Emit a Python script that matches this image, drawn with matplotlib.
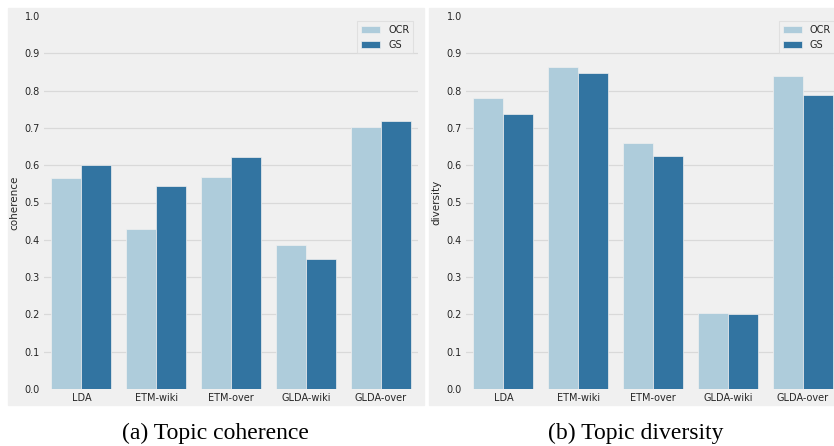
import numpy as np
import matplotlib
matplotlib.use("Agg")
import matplotlib.pyplot as plt
from matplotlib.patches import Rectangle
import seaborn as sns

models = ["LDA", "ETM-wiki", "ETM-over", "GLDA-wiki", "GLDA-over"]
series = ["OCR", "GS"]
coherence_ocr = [0.566, 0.430, 0.568, 0.387, 0.703]
coherence_gs = [0.600, 0.544, 0.623, 0.348, 0.718]
diversity_ocr = [0.779, 0.862, 0.659, 0.205, 0.838]
diversity_gs = [0.737, 0.846, 0.624, 0.200, 0.787]
yticks = [0.0, 0.1, 0.2, 0.3, 0.4, 0.5, 0.6, 0.7, 0.8, 0.9, 1.0]
captions = ["(a) Topic coherence", "(b) Topic diversity"]
ylabels = ["coherence", "diversity"]

pal = sns.color_palette("Paired")
colors = [sns.desaturate(pal[0], 0.75), sns.desaturate(pal[1], 0.75)]
BG = "#f0f0f0"

W, H = 834, 446
fig = plt.figure(figsize=(W / 100, H / 100), dpi=100, facecolor="white")

def fx(px):
    return px / W

def fy(py):
    return 1 - py / H

# panel backgrounds
fig.patches.append(Rectangle((fx(8), fy(405)), fx(416), 397 / H,
                             transform=fig.transFigure, color=BG, zorder=-10))
fig.patches.append(Rectangle((fx(429), fy(405)), fx(420), 397 / H,
                             transform=fig.transFigure, color=BG, zorder=-10))

axes_left_px = [44, 466]
data = [(coherence_ocr, coherence_gs), (diversity_ocr, diversity_gs)]
cap_x = [215, 636]

for i in range(2):
    ax = fig.add_axes([fx(axes_left_px[i]), fy(389), 374 / W, 373 / H])
    ax.set_facecolor(BG)
    x = np.arange(len(models))
    w = 0.4
    ocr, gs = data[i]
    ax.bar(x - w / 2, ocr, width=w, color=colors[0], edgecolor=BG, linewidth=0.5,
           label=series[0], zorder=2)
    ax.bar(x + w / 2, gs, width=w, color=colors[1], edgecolor=BG, linewidth=0.5,
           label=series[1], zorder=2)
    ax.set_xlim(-0.5, len(models) - 0.5)
    ax.set_ylim(0, 1.0)
    ax.set_yticks(yticks)
    ax.set_yticklabels([f"{t:.1f}" for t in yticks])
    ax.set_xticks(x)
    ax.set_xticklabels(models)
    ax.tick_params(axis="both", length=0, labelsize=7, colors="#262626", pad=3)
    ax.yaxis.grid(True, color="#d9d9d9", linewidth=0.9, zorder=0)
    ax.xaxis.grid(False)
    ax.set_axisbelow(True)
    gl = ax.yaxis.get_gridlines()
    gl[0].set_visible(False)
    gl[-1].set_visible(False)
    for s in ax.spines.values():
        s.set_visible(False)
    ax.set_ylabel(ylabels[i], fontsize=7.5, color="#262626", labelpad=4)
    leg = ax.legend(loc="upper right", fontsize=7, frameon=True, fancybox=False,
                    handlelength=2.0, handleheight=0.7, borderpad=0.4,
                    labelspacing=0.5, handletextpad=0.8, borderaxespad=0.5)
    leg.get_frame().set_facecolor(BG)
    leg.get_frame().set_edgecolor("#dcdcdc")
    leg.get_frame().set_linewidth(0.8)
    for t in leg.get_texts():
        t.set_color("#262626")
    fig.text(fx(cap_x[i]), fy(433), captions[i], ha="center", va="center",
             fontsize=17, family="Liberation Serif", color="black")

fig.savefig("out.png", dpi=100, facecolor="white")
